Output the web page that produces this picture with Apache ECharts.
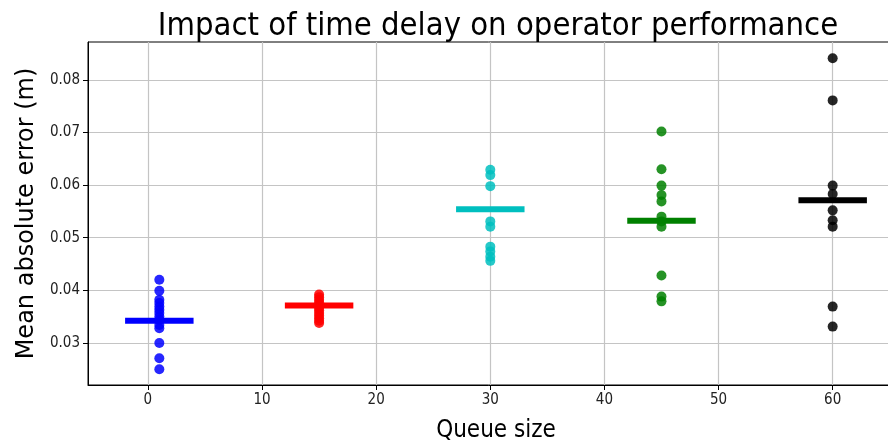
<!DOCTYPE html>
<html>
<head>
<meta charset="utf-8">
<script src="https://cdn.jsdelivr.net/npm/echarts@6/dist/echarts.min.js"></script>
<style>html,body{margin:0;padding:0;background:#fff}#c{width:888px;height:444px}</style>
</head>
<body>
<div id="c"></div>
<script>
var queueSizes = [1, 15, 30, 45, 60];
var groupColors = ['#0000ff', '#ff0000', '#00bfbf', '#008000', '#000000'];
var errQ1 = [0.0420, 0.0399, 0.0382, 0.0376, 0.0369, 0.0363, 0.0357, 0.0350, 0.0344, 0.0334, 0.0328, 0.0300, 0.0271, 0.0250];
var errQ15 = [0.0392, 0.0387, 0.0382, 0.0377, 0.0372, 0.0367, 0.0362, 0.0357, 0.0352, 0.0347, 0.0342, 0.0338];
var errQ30 = [0.0629, 0.0619, 0.0598, 0.0531, 0.0521, 0.0483, 0.0474, 0.0464, 0.0456];
var errQ45 = [0.0702, 0.0630, 0.0599, 0.0581, 0.0569, 0.0540, 0.0531, 0.0521, 0.0428, 0.0388, 0.0379];
var errQ60 = [0.0841, 0.0761, 0.0599, 0.0583, 0.0552, 0.0533, 0.0521, 0.0369, 0.0331];
var meanErr = [0.0342, 0.0371, 0.0554, 0.0532, 0.0571];
var meanHalfWidth = 3;
var xTicks = [0, 10, 20, 30, 40, 50, 60];
var yTicks = [0.03, 0.04, 0.05, 0.06, 0.07, 0.08];

var groups = [errQ1, errQ15, errQ30, errQ45, errQ60];
var series = [];
groups.forEach(function (vals, i) {
  series.push({
    type: 'scatter',
    data: vals.map(function (v) { return [queueSizes[i], v]; }),
    symbolSize: 10,
    itemStyle: { color: groupColors[i], opacity: 0.85 },
    z: 2
  });
  series.push({
    type: 'line',
    data: [[queueSizes[i] - meanHalfWidth, meanErr[i]], [queueSizes[i] + meanHalfWidth, meanErr[i]]],
    symbol: 'none',
    lineStyle: { color: groupColors[i], width: 6, cap: 'butt' },
    z: 3,
    silent: true
  });
});

var condensed = '"DejaVu Sans Condensed", "DejaVu Sans", sans-serif';
var chart = echarts.init(document.getElementById('c'), null, { renderer: 'canvas' });
chart.setOption({
  animation: false,
  backgroundColor: '#fff',
  title: {
    text: 'Impact of time delay on operator performance',
    left: 493, top: 5, textAlign: 'center',
    textStyle: { fontFamily: condensed, fontSize: 32.5, fontWeight: 'normal', color: '#000' }
  },
  grid: { left: 88, top: 42, right: -16, bottom: 59, outerBoundsMode: 'none', containLabel: false,
    show: true, borderColor: '#000', borderWidth: 1, backgroundColor: 'transparent' },
  xAxis: {
    type: 'value', min: -5.25, max: 66.25,
    name: 'Queue size', nameLocation: 'middle', nameGap: 34,
    nameTextStyle: { fontFamily: condensed, fontSize: 24, color: '#000' },
    axisLine: { show: true, onZero: false, lineStyle: { color: '#000', width: 1 } },
    axisTick: { show: true, inside: false, length: 5, customValues: xTicks, lineStyle: { color: '#000' } },
    axisLabel: { customValues: xTicks, fontFamily: condensed, fontSize: 15, color: '#222', margin: 8 },
    splitLine: { show: true, lineStyle: { color: '#c4c4c4', width: 1.2 } }
  },
  yAxis: {
    type: 'value', min: 0.022, max: 0.0872,
    name: 'Mean absolute error (m)', nameLocation: 'middle', nameGap: 48,
    nameTextStyle: { fontFamily: '"DejaVu Sans", sans-serif', fontSize: 24, color: '#000' },
    axisLine: { show: true, onZero: false, lineStyle: { color: '#000', width: 1 } },
    axisTick: { show: true, inside: false, length: 5, customValues: yTicks, lineStyle: { color: '#000' } },
    axisLabel: { customValues: yTicks, fontFamily: condensed, fontSize: 15, color: '#222', margin: 8,
      formatter: function (v) { return v.toFixed(2); } },
    splitLine: { show: true, lineStyle: { color: '#c4c4c4', width: 1.2 } }
  },
  series: series
});
</script>
</body>
</html>
